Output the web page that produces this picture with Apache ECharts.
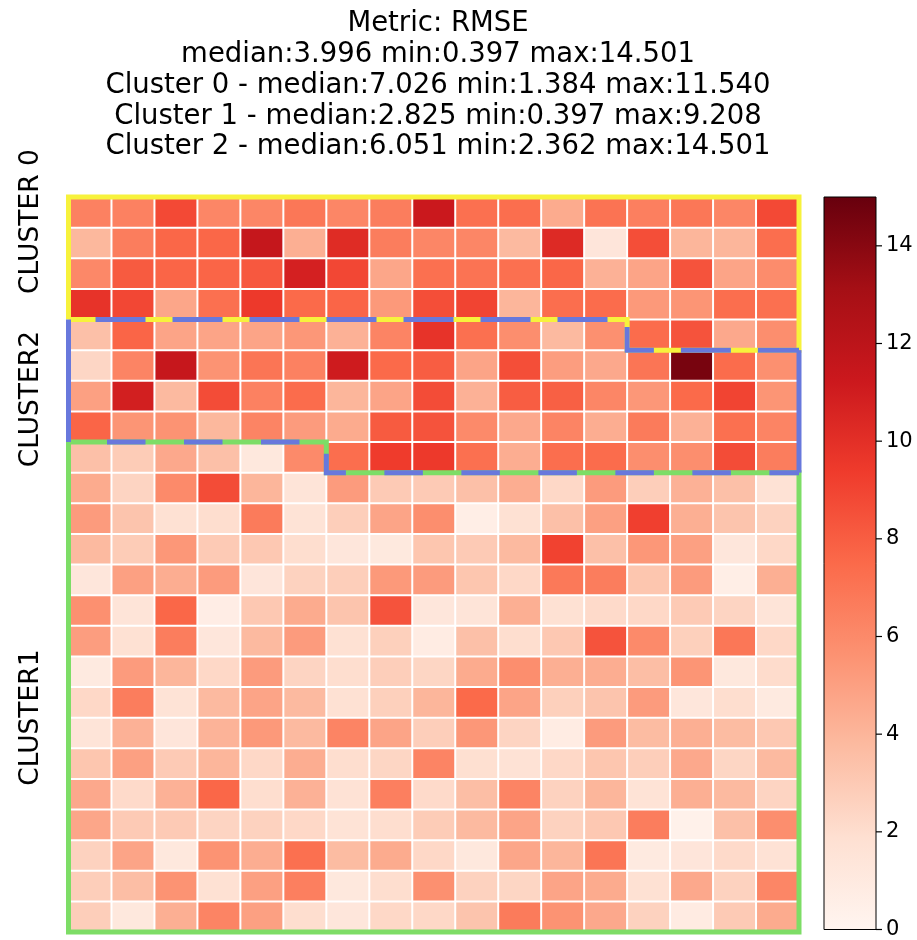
<!DOCTYPE html>
<html>
<head>
<meta charset="utf-8">
<title>RMSE heatmap</title>
<script src="https://cdn.jsdelivr.net/npm/echarts@6/dist/echarts.min.js"></script>
<style>
  html, body { margin: 0; padding: 0; background: #ffffff; }
  #chart { width: 917px; height: 940px; }
</style>
</head>
<body>
<div id="chart"></div>
<script>
// Grid size: 17 columns x 24 rows of RMSE values
const nCols = 17;
const nRows = 24;

// RMSE per row (top to bottom), one value per column
const row00 = [6.4, 6.4, 8.8, 6.2, 6.2, 6.9, 6.2, 6.6, 11.3, 7.2, 7.3, 4.5, 7.1, 6.5, 6.9, 6.2, 8.8];
const row01 = [3.9, 6.6, 7.6, 7.6, 11.54, 4.3, 10.2, 6.6, 6.2, 6.2, 3.8, 10.3, 1.384, 8.6, 4.0, 4.0, 7.3];
const row02 = [6.1, 8.1, 7.7, 7.7, 8.2, 10.8, 8.9, 4.7, 7.2, 7.1, 7.2, 7.6, 4.2, 4.8, 8.4, 4.8, 5.9];
const row03 = [9.8, 8.9, 4.7, 7.2, 9.5, 7.5, 7.7, 5.3, 8.6, 9.0, 4.0, 7.3, 7.4, 5.3, 5.5, 7.3, 7.2];
const row04 = [3.5, 7.7, 4.8, 4.8, 4.8, 5.4, 4.2, 6.3, 9.8, 7.2, 5.8, 3.8, 5.7, 7.4, 8.4, 4.6, 5.8];
const row05 = [2.362, 6.3, 11.5, 5.6, 7.0, 6.4, 11.1, 7.5, 8.0, 4.8, 8.6, 5.1, 4.6, 7.0, 14.501, 7.4, 5.7];
const row06 = [5.0, 10.9, 3.8, 8.7, 6.4, 7.4, 4.0, 4.8, 8.7, 4.2, 8.0, 7.9, 6.2, 5.4, 7.5, 9.0, 5.5];
const row07 = [7.7, 5.5, 5.6, 3.9, 6.3, 5.2, 4.5, 8.1, 8.4, 6.0, 4.6, 6.3, 4.4, 6.7, 4.2, 7.2, 6.3];
const row08 = [3.5, 2.9, 4.6, 3.5, 1.2, 6.0, 7.3, 9.4, 9.5, 7.2, 4.4, 7.3, 7.4, 5.8, 5.8, 8.7, 6.6];
const row09 = [4.5, 2.5, 6.0, 8.7, 4.0, 1.5, 5.2, 3.0, 3.0, 3.5, 4.4, 2.3, 5.2, 2.8, 4.2, 3.5, 1.7];
const row10 = [5.2, 3.3, 1.8, 2.0, 6.7, 1.6, 2.8, 4.8, 5.8, 0.6, 1.8, 3.5, 5.0, 9.208, 4.3, 3.3, 2.6];
const row11 = [3.8, 2.9, 5.4, 3.0, 3.1, 2.0, 1.3, 1.1, 3.2, 3.0, 3.8, 9.1, 3.5, 5.4, 5.0, 1.3, 2.3];
const row12 = [1.3, 5.0, 4.4, 5.2, 1.4, 2.6, 2.8, 5.3, 5.2, 3.2, 2.3, 6.8, 6.6, 3.2, 5.2, 0.6, 4.3];
const row13 = [5.7, 1.5, 7.6, 0.7, 3.1, 4.5, 3.3, 8.4, 1.3, 1.5, 4.3, 1.8, 2.2, 2.3, 3.0, 2.5, 1.5];
const row14 = [5.1, 1.8, 6.6, 1.3, 3.8, 5.2, 1.8, 2.7, 0.8, 3.5, 2.0, 3.1, 8.4, 6.0, 2.7, 6.9, 2.3];
const row15 = [1.0, 5.2, 4.0, 2.3, 5.2, 2.5, 2.0, 2.8, 2.4, 4.5, 5.8, 4.3, 4.4, 3.6, 5.5, 1.2, 2.1];
const row16 = [2.3, 6.6, 1.6, 3.8, 4.8, 3.8, 1.8, 2.7, 4.0, 7.5, 4.8, 2.7, 3.3, 5.2, 1.3, 2.0, 1.0];
const row17 = [1.5, 4.2, 1.4, 4.1, 5.3, 3.8, 6.3, 4.8, 2.8, 5.4, 2.5, 0.8, 5.2, 3.7, 4.3, 3.7, 3.1];
const row18 = [3.2, 5.0, 3.0, 4.0, 2.3, 4.4, 2.0, 2.4, 6.3, 1.9, 1.7, 2.3, 3.2, 2.8, 4.6, 2.4, 3.8];
const row19 = [4.6, 2.2, 4.2, 7.6, 2.0, 4.2, 1.7, 6.5, 2.2, 3.6, 6.3, 2.6, 4.0, 1.6, 4.3, 3.8, 2.5];
const row20 = [4.7, 3.0, 3.0, 2.5, 2.6, 2.3, 1.6, 2.0, 2.9, 3.8, 4.8, 2.6, 3.1, 6.6, 0.397, 3.5, 5.8];
const row21 = [2.6, 4.8, 1.2, 5.6, 4.4, 7.2, 3.7, 4.5, 2.3, 1.2, 4.7, 4.0, 7.0, 1.0, 1.4, 2.2, 1.7];
const row22 = [2.8, 3.6, 5.6, 1.8, 5.0, 6.5, 1.2, 2.0, 5.7, 2.6, 2.4, 4.8, 4.5, 1.8, 4.6, 2.6, 6.2];
const row23 = [2.8, 1.2, 4.3, 6.3, 5.0, 2.0, 1.3, 2.3, 2.3, 3.3, 6.7, 5.6, 4.6, 2.6, 0.9, 3.0, 4.5];

const rmseRows = [row00, row01, row02, row03, row04, row05, row06, row07, row08, row09, row10, row11,
                  row12, row13, row14, row15, row16, row17, row18, row19, row20, row21, row22, row23];

// Colour scale (matplotlib "Reds") and colour bar ticks
const colorMin = 0;
const colorMax = 15;
const redsStops = ['#fff5f0', '#fee0d2', '#fcbba1', '#fc9272', '#fb6a4a', '#ef3b2c', '#cb181d', '#a50f15', '#67000d'];
const colorbarTicks = [0, 2, 4, 6, 8, 10, 12, 14];

// Title text
const titleLines = [
  'Metric: RMSE',
  'median:3.996 min:0.397 max:14.501',
  'Cluster 0 - median:7.026 min:1.384 max:11.540',
  'Cluster 1 - median:2.825 min:0.397 max:9.208',
  'Cluster 2 - median:6.051 min:2.362 max:14.501'
];

// Row-axis labels and the row positions they sit at
const clusterLabels = ['CLUSTER 0', 'CLUSTER2', 'CLUSTER1'];
const clusterLabelRows = [0.8, 6.6, 17.0];

// Cluster outlines in cell-edge coordinates [column, row]
const cluster0Outline = [[0, 4], [0, 0], [17, 0], [17, 5], [13, 5], [13, 4], [0, 4]];
const cluster1Outline = [[0, 8], [6, 8], [6, 9], [17, 9], [17, 24], [0, 24], [0, 8]];
const cluster2LeftEdge = [[0, 4], [0, 8]];
const cluster2RightEdge = [[17, 5], [17, 9]];
const cluster2TopEdge = [[0, 4], [13, 4], [13, 5], [17, 5]];
const cluster2BottomEdge = [[0, 8], [6, 8], [6, 9], [17, 9]];

const yellow = '#f7f23c';
const blue = '#6878dc';
const green = '#7ddd66';
const font = 'DejaVu Sans';

// [column, row, value] triples for the cell series
const cells = [];
rmseRows.forEach((row, r) => row.forEach((v, c) => cells.push([c, r, v])));

function outline(data, color, z, dash, offset) {
  return {
    type: 'line',
    xAxisIndex: 0,
    yAxisIndex: 0,
    data: data,
    symbol: 'none',
    clip: false,
    silent: true,
    z: z,
    lineStyle: {
      color: color,
      width: 5,
      type: dash || 'solid',
      dashOffset: offset || 0,
      cap: 'butt',
      join: 'miter'
    }
  };
}

const chart = echarts.init(document.getElementById('chart'), null, { renderer: 'canvas' });

chart.setOption({
  animation: false,
  backgroundColor: '#ffffff',
  title: {
    text: titleLines.join('\n'),
    left: 433,
    top: 4,
    textAlign: 'center',
    textStyle: {
      fontFamily: font,
      fontSize: 27.5,
      fontWeight: 'normal',
      color: '#000000',
      lineHeight: 30.7
    }
  },
  grid: [
    { left: 68.5, top: 197, width: 730.5, height: 735 },
    { left: 824, top: 197, width: 52, height: 735 }
  ],
  xAxis: [
    { gridIndex: 0, type: 'value', min: 0, max: nCols, show: false },
    { gridIndex: 1, type: 'value', min: 0, max: 1, show: false }
  ],
  yAxis: [
    {
      gridIndex: 0, type: 'value', min: 0, max: nRows, inverse: true,
      axisLine: { show: false },
      axisTick: { show: false },
      splitLine: { show: false },
      axisLabel: {
        customValues: clusterLabelRows,
        formatter: (v) => {
          const i = clusterLabelRows.findIndex((p) => Math.abs(p - v) < 1e-6);
          return i >= 0 ? clusterLabels[i] : '';
        },
        rotate: 90,
        margin: 24,
        fontFamily: font,
        fontSize: 26.5,
        color: '#000000'
      }
    },
    {
      gridIndex: 1, type: 'value', min: colorMin, max: colorMax, position: 'right',
      axisLine: { show: false },
      splitLine: { show: false },
      axisTick: { show: false },
      axisLabel: {
        customValues: colorbarTicks,
        margin: 10,
        fontFamily: font,
        fontSize: 21,
        color: '#000000'
      }
    }
  ],
  visualMap: {
    type: 'continuous',
    show: false,
    min: colorMin,
    max: colorMax,
    dimension: 2,
    seriesIndex: 0,
    inRange: { color: redsStops }
  },
  series: [
    {
      type: 'custom',
      xAxisIndex: 0,
      yAxisIndex: 0,
      data: cells,
      encode: { x: 0, y: 1 },
      silent: true,
      z: 2,
      renderItem: (params, api) => {
        const c = api.value(0);
        const r = api.value(1);
        const p0 = api.coord([c, r]);
        const p1 = api.coord([c + 1, r + 1]);
        const x = Math.min(p0[0], p1[0]);
        const y = Math.min(p0[1], p1[1]);
        return {
          type: 'rect',
          shape: { x: x + 1, y: y + 1, width: Math.abs(p1[0] - p0[0]) - 2, height: Math.abs(p1[1] - p0[1]) - 2 },
          style: { fill: api.visual('color') }
        };
      }
    },
    {
      // colour bar: gradient strip, frame and outward ticks
      type: 'custom',
      xAxisIndex: 1,
      yAxisIndex: 1,
      data: [[0, colorMin, colorMax]],
      silent: true,
      z: 2,
      renderItem: (params, api) => {
        const lo = api.coord([0, api.value(1)]);
        const hi = api.coord([1, api.value(2)]);
        const stops = redsStops.map((col, i) => ({ offset: i / (redsStops.length - 1), color: col }));
        const children = [{
          type: 'rect',
          shape: { x: lo[0], y: hi[1], width: hi[0] - lo[0], height: lo[1] - hi[1] },
          style: {
            fill: new echarts.graphic.LinearGradient(0, 1, 0, 0, stops),
            stroke: '#000000',
            lineWidth: 1
          }
        }];
        colorbarTicks.forEach((t) => {
          const p = api.coord([1, t]);
          children.push({
            type: 'line',
            shape: { x1: p[0], y1: p[1], x2: p[0] + 6, y2: p[1] },
            style: { stroke: '#000000', lineWidth: 1.2 }
          });
        });
        return { type: 'group', children: children };
      }
    },
    outline(cluster0Outline, yellow, 5),
    outline(cluster1Outline, green, 5),
    outline(cluster2LeftEdge, blue, 6),
    outline(cluster2RightEdge, blue, 6),
    outline(cluster2TopEdge, blue, 7, [50, 27], 50),
    outline(cluster2BottomEdge, blue, 7, [38.5, 38.5], 38.5)
  ]
});
</script>
</body>
</html>
